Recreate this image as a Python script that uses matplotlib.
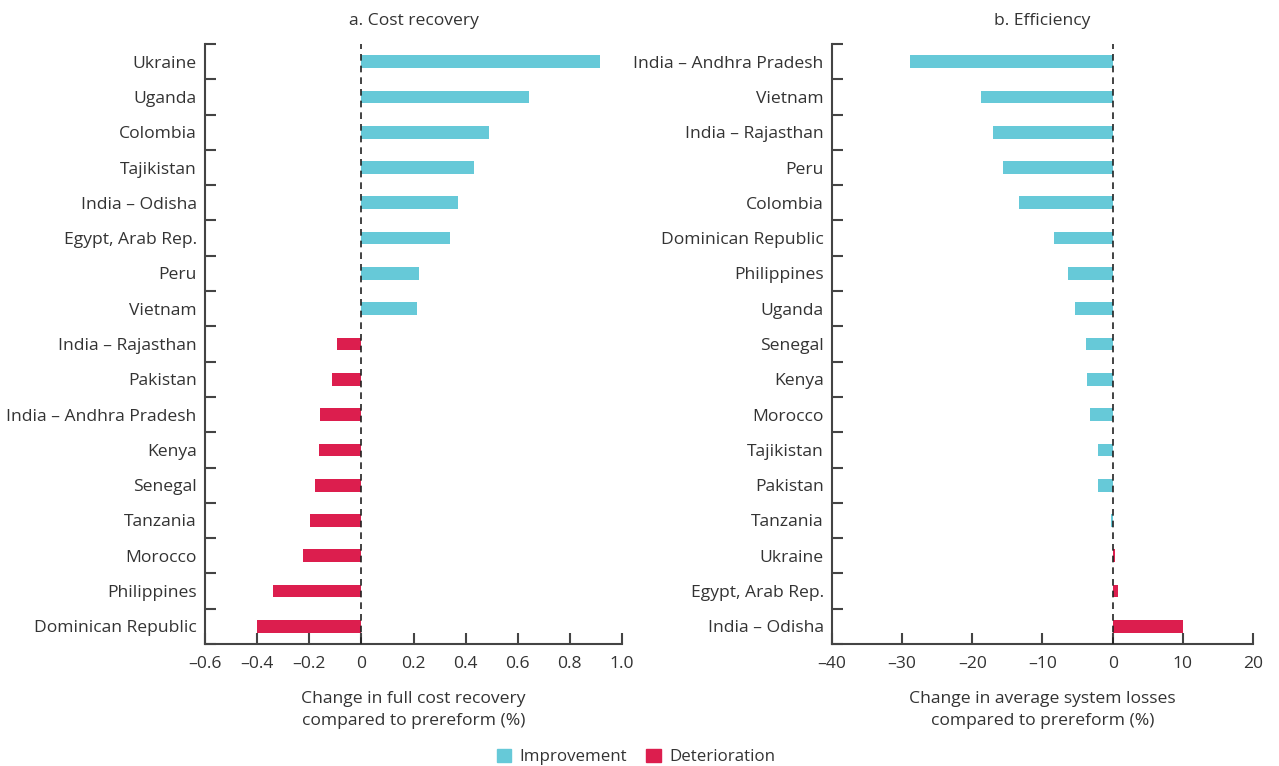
import matplotlib.pyplot as plt
from matplotlib.patches import Patch

# panel a: cost recovery (top to bottom)
cost_countries = ["Ukraine", "Uganda", "Colombia", "Tajikistan", "India – Odisha",
                  "Egypt, Arab Rep.", "Peru", "Vietnam", "India – Rajasthan", "Pakistan",
                  "India – Andhra Pradesh", "Kenya", "Senegal", "Tanzania", "Morocco",
                  "Philippines", "Dominican Republic"]
cost_values = [0.915, 0.642, 0.488, 0.432, 0.372, 0.340, 0.221, 0.215, -0.095, -0.114,
               -0.160, -0.164, -0.179, -0.198, -0.225, -0.340, -0.402]

# panel b: efficiency (top to bottom)
eff_countries = ["India – Andhra Pradesh", "Vietnam", "India – Rajasthan", "Peru", "Colombia",
                 "Dominican Republic", "Philippines", "Uganda", "Senegal", "Kenya", "Morocco",
                 "Tajikistan", "Pakistan", "Tanzania", "Ukraine", "Egypt, Arab Rep.",
                 "India – Odisha"]
eff_values = [-28.9, -18.7, -17.0, -15.7, -13.4, -8.4, -6.4, -5.3, -3.8, -3.7, -3.3,
              -2.1, -2.1, -0.2, 0.4, 0.7, 10.0]

cost_ticks = [-0.6, -0.4, -0.2, 0, 0.2, 0.4, 0.6, 0.8, 1.0]
cost_ticklabels = ["–0.6", "–0.4", "–0.2", "0", "0.2", "0.4", "0.6", "0.8", "1.0"]
eff_ticks = [-40, -30, -20, -10, 0, 10, 20]
eff_ticklabels = ["–40", "–30", "–20", "–10", "0", "10", "20"]

IMPROVE = "#66c9d8"
WORSE = "#dc1e4e"
TXT = "#333333"
SPINE = "#444444"
FS = 12.6

plt.rcParams['font.family'] = ['Open Sans', 'DejaVu Sans']
plt.rcParams['text.color'] = TXT

fig = plt.figure(figsize=(12.79, 7.66), dpi=100)
ax1 = fig.add_axes([205/1279, 122/766, 417/1279, 600/766])
ax2 = fig.add_axes([832/1279, 122/766, 421/1279, 600/766])


def draw_panel(ax, names, vals, good_positive, xlim, ticks, ticklabels, title, xlabel):
    n = len(names)
    ypos = list(range(n - 1, -1, -1))
    colors = []
    for v in vals:
        good = v > 0 if good_positive else v <= 0
        colors.append(IMPROVE if good else WORSE)
    ax.barh(ypos, vals, height=0.36, color=colors, zorder=2)
    ax.axvline(0, color="#222222", lw=1.2, ls=(0, (4, 3)), zorder=3)
    ax.set_xlim(*xlim)
    ax.set_ylim(-0.5, n - 0.5)
    ax.set_xticks(ticks)
    ax.set_xticklabels(ticklabels, fontsize=FS, color=TXT)
    # category labels at centres, ticks at category edges
    ax.set_yticks(ypos)
    ax.set_yticklabels(names, fontsize=FS, color=TXT)
    ax.tick_params(axis='y', which='major', length=0, pad=6)
    ax.set_yticks([i - 0.5 for i in range(n + 1)], minor=True)
    ax.tick_params(axis='y', which='minor', direction='in', length=8, width=1.5, color=SPINE)
    ax.tick_params(axis='x', direction='in', length=8, width=1.5, color=SPINE, pad=9)
    for s in ['top', 'right']:
        ax.spines[s].set_visible(False)
    for s in ['left', 'bottom']:
        ax.spines[s].set_color(SPINE)
        ax.spines[s].set_linewidth(1.5)
    ax.set_title(title, fontsize=FS, color=TXT, pad=14)
    ax.set_xlabel(xlabel, fontsize=FS, color=TXT, labelpad=13, linespacing=1.5)


draw_panel(ax1, cost_countries, cost_values, True, (-0.6, 1.0), cost_ticks, cost_ticklabels,
           "a. Cost recovery", "Change in full cost recovery\ncompared to prereform (%)")
draw_panel(ax2, eff_countries, eff_values, False, (-40, 20), eff_ticks, eff_ticklabels,
           "b. Efficiency", "Change in average system losses\ncompared to prereform (%)")

handles = [Patch(color=IMPROVE, label="Improvement"), Patch(color=WORSE, label="Deterioration")]
fig.legend(handles=handles, loc='center', bbox_to_anchor=(636/1279, 1 - 757/766), ncol=2,
           frameon=False, fontsize=12.2, handlelength=0.85, handleheight=0.85, columnspacing=1.1,
           handletextpad=0.5)

fig.savefig("out.png", dpi=100)
